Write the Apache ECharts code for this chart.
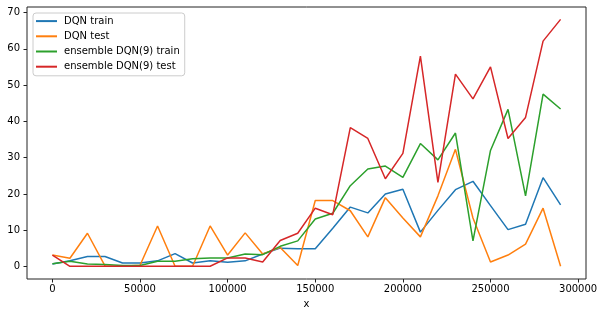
<!DOCTYPE html>
<html>
<head>
<meta charset="utf-8">
<script src="https://cdn.jsdelivr.net/npm/echarts@6/dist/echarts.min.js"></script>
<style>html,body{margin:0;padding:0;background:#fff}#c{width:603px;height:317px}</style>
</head>
<body>
<div id="c"></div>
<script>
var steps = [0,10000,20000,30000,40000,50000,60000,70000,80000,90000,100000,110000,120000,130000,140000,150000,160000,170000,180000,190000,200000,210000,220000,230000,240000,250000,260000,270000,280000,290000];
var dqnTrain = [0.7,1.6,2.8,2.8,1.0,1.0,1.6,3.6,1.0,1.6,1.2,1.6,3.5,5.1,4.9,4.9,10.6,16.4,14.8,20.0,21.3,9.5,15.5,21.2,23.5,16.8,10.2,11.7,24.5,17.0];
var dqnTest = [3.2,2.3,9.2,0.2,0.1,0.4,11.2,0.1,0.1,11.2,3.2,9.3,3.5,5.3,0.3,18.2,18.2,15.4,8.2,19.0,13.4,8.2,19.5,32.3,13.4,1.3,3.2,6.2,16.1,0.1];
var ensTrain = [0.8,1.5,0.7,0.6,0.3,0.3,1.5,1.5,2.2,2.4,2.4,3.5,3.3,5.6,7.1,13.1,14.7,22.3,26.9,27.7,24.6,33.9,29.4,36.8,7.1,32.0,43.3,19.5,47.5,43.4];
var ensTest = [3.2,0.1,0.1,0.1,0.1,0.1,0.1,0.1,0.1,0.1,2.4,2.4,1.3,7.2,9.2,16.1,14.3,38.3,35.3,24.2,31.2,58.0,23.2,53.0,46.2,55.0,35.3,41.1,62.1,68.1];
var seriesNames = ['DQN train','DQN test','ensemble DQN(9) train','ensemble DQN(9) test'];
var colors = ['#1f77b4','#ff7f0e','#2ca02c','#d62728'];
var xTicks = [0,50000,100000,150000,200000,250000,300000];
var yTicks = [0,10,20,30,40,50,60,70];

function pairs(ys){ return steps.map(function(x,i){ return [x, ys[i]]; }); }
var all = [dqnTrain,dqnTest,ensTrain,ensTest];
var font = 'DejaVu Sans';
var chart = echarts.init(document.getElementById('c'), null, {renderer:'canvas'});
chart.setOption({
  animation:false,
  backgroundColor:'#fff',
  grid:{left:27,right:17,top:7,bottom:38,show:true,borderColor:'#222',borderWidth:1,backgroundColor:'transparent'},
  legend:{
    orient:'vertical',left:33,top:13,
    data:seriesNames,
    icon:'rect',itemWidth:21,itemHeight:2,itemGap:3,
    padding:[2,5,3,3],
    borderColor:'#cccccc',borderWidth:1,borderRadius:3,
    backgroundColor:'rgba(255,255,255,0.8)',
    textStyle:{fontFamily:font,fontSize:10,color:'#000',lineHeight:12.2,padding:[0,0,0,2]}
  },
  xAxis:{
    type:'value',min:-14500,max:304500,
    name:'x',nameLocation:'middle',nameGap:20,
    nameTextStyle:{fontFamily:font,fontSize:10,color:'#000'},
    axisLine:{show:false,onZero:false},
    axisTick:{show:true,length:3.5,lineStyle:{color:'#222'},customValues:xTicks},
    axisLabel:{fontFamily:font,fontSize:10,color:'#000',margin:5,customValues:xTicks,
      formatter:function(v){return String(v);}},
    splitLine:{show:false}
  },
  yAxis:{
    type:'value',min:-3.4,max:71.5,
    axisLine:{show:false,onZero:false},
    axisTick:{show:true,length:3.5,lineStyle:{color:'#222'},customValues:yTicks},
    axisLabel:{fontFamily:font,fontSize:10,color:'#000',margin:7,customValues:yTicks,
      formatter:function(v){return String(v);}},
    splitLine:{show:false}
  },
  series: seriesNames.map(function(n,i){
    return {name:n,type:'line',data:pairs(all[i]),symbol:'none',color:colors[i],
      lineStyle:{width:1.5,color:colors[i]},z:2+i};
  })
});
</script>
</body>
</html>
